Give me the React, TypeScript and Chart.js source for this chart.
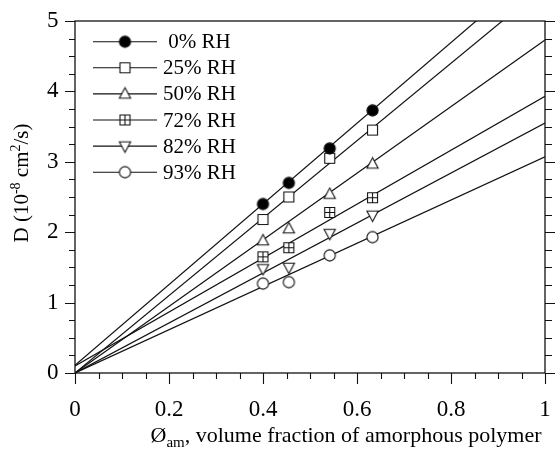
import React, { useEffect, useRef } from "react";
import { Chart, registerables } from "chart.js";

Chart.register(...registerables);

// ---- data ----
const xValues = [0.4, 0.455, 0.542, 0.633];
const seriesLabels = [" 0% RH", "25% RH", "50% RH", "72% RH", "82% RH", "93% RH"];
const d0 = [2.4, 2.7, 3.19, 3.73];
const d25 = [2.18, 2.5, 3.05, 3.45];
const d50 = [1.88, 2.05, 2.54, 2.97];
const d72 = [1.65, 1.78, 2.28, 2.49];
const d82 = [1.48, 1.5, 1.98, 2.24];
const d93 = [1.27, 1.29, 1.67, 1.93];
const fitX = [0, 1];
const fitAt0 = [0.11, 0, 0, 0.1, 0, 0];
const fitAt1 = [5.84, 5.5, 4.73, 3.93, 3.55, 3.07];
const markerKinds = ["dot", "square", "triUp", "squarePlus", "triDown", "circle"];
const yTickLabels = ["0", "1", "2", "3", "4", "5"];
const xTickLabels = ["0", "0.2", "0.4", "0.6", "0.8", "1"];

const FONT = "'Liberation Serif', 'Times New Roman', serif";
const INK = "#111";

function makeMarker(kind: string): HTMLCanvasElement {
  const c = document.createElement("canvas");
  c.width = 15;
  c.height = 15;
  const g = c.getContext("2d")!;
  const cx = 7.5, cy = 7.5;
  g.strokeStyle = INK;
  g.lineWidth = 1.1;
  g.fillStyle = "#fff";
  g.beginPath();
  if (kind === "dot" || kind === "circle") {
    g.arc(cx, cy, 5.6, 0, Math.PI * 2);
    g.fillStyle = kind === "dot" ? "#000" : "#fff";
    g.fill();
    g.stroke();
  } else if (kind === "square" || kind === "squarePlus") {
    g.rect(cx - 5, cy - 5, 10, 10);
    g.fill();
    g.stroke();
    if (kind === "squarePlus") {
      g.beginPath();
      g.moveTo(cx, cy - 5);
      g.lineTo(cx, cy + 5);
      g.moveTo(cx - 5, cy);
      g.lineTo(cx + 5, cy);
      g.stroke();
    }
  } else {
    const s = kind === "triUp" ? 1 : -1;
    g.moveTo(cx, cy - 6.2 * s);
    g.lineTo(cx + 5.6, cy + 4.2 * s);
    g.lineTo(cx - 5.6, cy + 4.2 * s);
    g.closePath();
    g.fill();
    g.stroke();
  }
  return c;
}

const seriesData = [d0, d25, d50, d72, d82, d93];

const framePlugin = {
  id: "frameTicks",
  afterDatasetsDraw(chart: any) {
    const { ctx, chartArea: a } = chart;
    const xs = chart.scales.x;
    const ys = chart.scales.y;
    ctx.save();
    ctx.strokeStyle = INK;
    ctx.lineWidth = 1.3;
    ctx.strokeRect(a.left, a.top, a.right - a.left, a.bottom - a.top);
    ctx.lineWidth = 1.1;
    ctx.beginPath();
    ys.ticks.forEach((t: any) => {
      const y = Math.round(ys.getPixelForValue(t.value)) + 0.5;
      const major = Math.abs(t.value - Math.round(t.value)) < 1e-6;
      ctx.moveTo(a.left, y);
      ctx.lineTo(a.left - (major ? 10 : 6), y);
      ctx.moveTo(a.right, y);
      ctx.lineTo(a.right + (major ? 10 : 7), y);
    });
    xs.ticks.forEach((t: any) => {
      const x = Math.round(xs.getPixelForValue(t.value)) + 0.5;
      const major = Math.abs(t.value * 5 - Math.round(t.value * 5)) < 1e-6;
      ctx.moveTo(x, a.bottom);
      ctx.lineTo(x, a.bottom + (major ? 11 : 6));
    });
    ctx.stroke();
    ctx.restore();
  },
};

const legendPlugin = {
  id: "inlineLegend",
  afterDraw(chart: any) {
    const { ctx } = chart;
    ctx.save();
    ctx.strokeStyle = INK;
    ctx.lineWidth = 1.1;
    ctx.fillStyle = "#000";
    ctx.font = `21px ${FONT}`;
    ctx.textBaseline = "middle";
    const ds = chart.data.datasets;
    for (let i = 0; i < seriesLabels.length; i++) {
      const y = 41.7 + i * 26.1;
      ctx.beginPath();
      ctx.moveTo(93, y);
      ctx.lineTo(157, y);
      ctx.stroke();
      const img = ds[i].pointStyle as HTMLCanvasElement;
      ctx.drawImage(img, 125 - img.width / 2, y - img.height / 2);
      ctx.fillText(seriesLabels[i], 163, y + 1);
    }
    ctx.restore();
  },
};

function drawPieces(ctx: any, pieces: { t: string; k: "n" | "sub" | "sup" }[], cx: number, by: number, base: number) {
  const size = (k: string) => (k === "n" ? base : Math.round(base * 0.68));
  const off = (k: string) => (k === "sub" ? base * 0.25 : k === "sup" ? -base * 0.4 : 0);
  let total = 0;
  pieces.forEach((p) => {
    ctx.font = `${size(p.k)}px ${FONT}`;
    total += ctx.measureText(p.t).width;
  });
  let x = cx - total / 2;
  pieces.forEach((p) => {
    ctx.font = `${size(p.k)}px ${FONT}`;
    ctx.fillText(p.t, x, by + off(p.k));
    x += ctx.measureText(p.t).width;
  });
}

const titlePlugin = {
  id: "axisTitles",
  afterDraw(chart: any) {
    const { ctx } = chart;
    ctx.save();
    ctx.fillStyle = "#000";
    ctx.textBaseline = "alphabetic";
    ctx.textAlign = "left";
    drawPieces(
      ctx,
      [
        { t: "Ø", k: "n" },
        { t: "am", k: "sub" },
        { t: ", volume fraction of amorphous polymer", k: "n" },
      ],
      346,
      441.5,
      22
    );
    ctx.translate(28, 183);
    ctx.rotate(-Math.PI / 2);
    drawPieces(
      ctx,
      [
        { t: "D (10", k: "n" },
        { t: "-8", k: "sup" },
        { t: " cm", k: "n" },
        { t: "2", k: "sup" },
        { t: "/s)", k: "n" },
      ],
      0,
      0,
      21
    );
    ctx.restore();
  },
};

export default function App() {
  const ref = useRef<HTMLCanvasElement>(null);
  useEffect(() => {
    const markers = markerKinds.map(makeMarker);
    const pointSets = seriesData.map((vals, i) => ({
      label: seriesLabels[i],
      data: vals.map((v, j) => ({ x: xValues[j], y: v })),
      showLine: false,
      pointStyle: markers[i],
      pointRadius: 6,
      pointHoverRadius: 6,
    }));
    const lineSets = seriesData.map((_, i) => ({
      label: seriesLabels[i] + " fit",
      data: fitX.map((x) => ({ x, y: fitAt0[i] + (fitAt1[i] - fitAt0[i]) * x })),
      showLine: true,
      borderColor: INK,
      borderWidth: 1.2,
      pointRadius: 0,
      pointHoverRadius: 0,
    }));
    const chart = new Chart(ref.current!, {
      type: "scatter",
      data: { datasets: [...pointSets, ...lineSets] as any },
      plugins: [framePlugin, legendPlugin, titlePlugin],
      options: {
        animation: false,
        responsive: false,
        layout: { padding: { top: 21, right: 10, left: 47, bottom: 0 } },
        plugins: { legend: { display: false }, tooltip: { enabled: false } },
        scales: {
          x: {
            type: "linear",
            min: 0,
            max: 1,
            border: { display: false },
            grid: { display: false },
            afterFit: (s: any) => {
              s.height = 79;
              s.paddingLeft = 0;
              s.paddingRight = 0;
            },
            ticks: {
              stepSize: 0.05,
              autoSkip: false,
              maxRotation: 0,
              padding: 15,
              color: "#000",
              font: { family: FONT, size: 23 },
              callback: (v: any) => {
                const n = Number(v);
                const k = Math.round(n * 5);
                return Math.abs(n * 5 - k) < 1e-6 ? xTickLabels[k] : "";
              },
            },
          },
          y: {
            type: "linear",
            min: 0,
            max: 5,
            border: { display: false },
            grid: { display: false },
            afterFit: (s: any) => {
              s.width = 28;
              s.paddingTop = 0;
              s.paddingBottom = 0;
            },
            ticks: {
              stepSize: 0.25,
              autoSkip: false,
              padding: 16,
              crossAlign: "far",
              color: "#000",
              font: { family: FONT, size: 23 },
              callback: (v: any) => {
                const n = Number(v);
                const k = Math.round(n);
                return Math.abs(n - k) < 1e-6 ? yTickLabels[k] : "";
              },
            },
          },
        },
      },
    });
    return () => chart.destroy();
  }, []);
  return (
    <div style={{ position: "absolute", left: 0, top: 0, width: 555, height: 452, background: "#fff" }}>
      <canvas ref={ref} width={555} height={452} />
    </div>
  );
}
